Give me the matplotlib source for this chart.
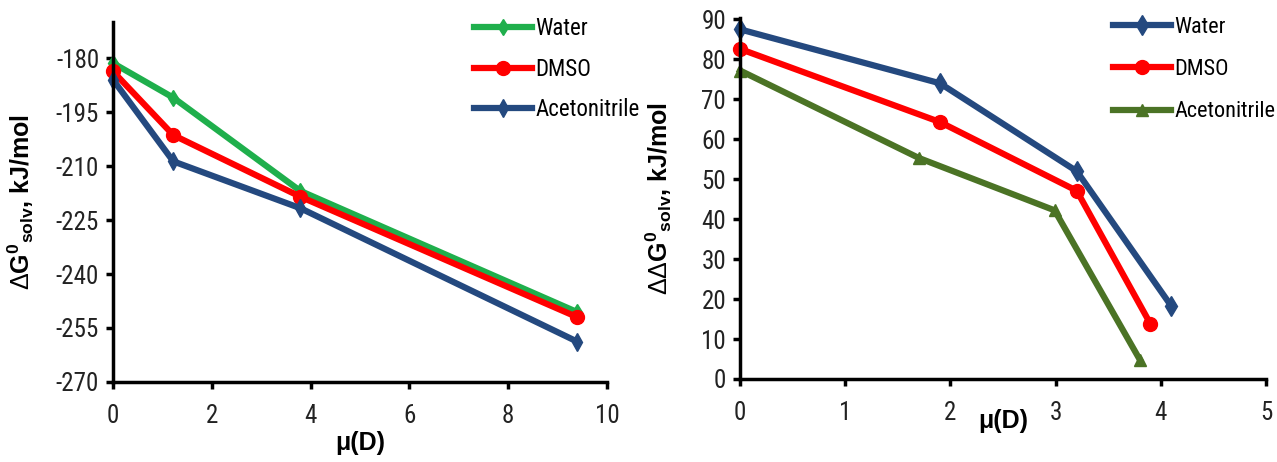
import matplotlib
matplotlib.use("Agg")
import matplotlib.pyplot as plt
from matplotlib import font_manager

# ---- data: left panel (ΔG0 solv) ----
left_series = ["Water", "DMSO", "Acetonitrile"]
left_x = [0, 1.22, 3.79, 9.4]
left_water = [-181.4, -191.0, -216.9, -250.6]
left_dmso = [-183.7, -201.4, -218.5, -252.0]
left_acn = [-186.0, -208.7, -221.7, -258.8]
left_yticks = [-270, -255, -240, -225, -210, -195, -180]
left_xticks = [0, 2, 4, 6, 8, 10]

# ---- data: right panel (ΔΔG0 solv) ----
right_series = ["Water", "DMSO", "Acetonitrile"]
right_water_x = [0, 1.90, 3.20, 4.10]
right_water = [87.5, 74.0, 52.0, 18.2]
right_dmso_x = [0, 1.90, 3.20, 3.90]
right_dmso = [82.6, 64.3, 47.1, 13.8]
right_acn_x = [0, 1.70, 2.99, 3.80]
right_acn = [77.2, 55.3, 42.2, 4.8]
right_yticks = [0, 10, 20, 30, 40, 50, 60, 70, 80, 90]
right_xticks = [0, 1, 2, 3, 4, 5]

avail = {f.name for f in font_manager.fontManager.ttflist}
narrow = None
for cand in ["Liberation Sans Narrow", "Roboto Condensed", "Open Sans Condensed", "Liberation Sans"]:
    if cand in avail:
        narrow = cand
        break
if narrow is None:
    narrow = "DejaVu Sans"

plt.rcParams["font.family"] = ["Liberation Sans", "DejaVu Sans"]
plt.rcParams["axes.unicode_minus"] = False
plt.rcParams["mathtext.fontset"] = "custom"
plt.rcParams["mathtext.rm"] = "Liberation Sans"
plt.rcParams["mathtext.it"] = "Liberation Sans:italic"
plt.rcParams["mathtext.bf"] = "Liberation Sans:bold"

GREEN = "#1FAF4C"
RED = "#FF0000"
NAVY = "#24497F"
OLIVE = "#4B7325"

fig = plt.figure(figsize=(12.77, 4.62), dpi=100)
axL = fig.add_axes([0.0885, 0.1732, 0.3868, 0.779])
axR = fig.add_axes([0.5795, 0.1797, 0.412, 0.781])

lw = 4.5
axL.plot(left_x, left_water, color=GREEN, lw=lw, marker="d", ms=8, label=left_series[0])
axL.plot(left_x, left_dmso, color=RED, lw=lw, marker="o", ms=10, label=left_series[1])
axL.plot(left_x, left_acn, color=NAVY, lw=lw, marker="d", ms=9, label=left_series[2])
axL.set_xlim(0, 10)
axL.set_ylim(-270, -170)
axL.set_xticks(left_xticks)
axL.set_yticks(left_yticks)

axR.plot(right_water_x, right_water, color=NAVY, lw=lw, marker="d", ms=10, label=right_series[0])
axR.plot(right_dmso_x, right_dmso, color=RED, lw=lw, marker="o", ms=10, label=right_series[1])
axR.plot(right_acn_x, right_acn, color=OLIVE, lw=lw, marker="^", ms=9, label=right_series[2])
axR.set_xlim(0, 5)
axR.set_ylim(0, 90.3)
axR.set_xticks(right_xticks)
axR.set_yticks(right_yticks)

for ax in (axL, axR):
    for s in ("top", "right"):
        ax.spines[s].set_visible(False)
    for s in ("left", "bottom"):
        ax.spines[s].set_linewidth(2.5)
        ax.spines[s].set_color("black")
    ax.tick_params(axis="y", direction="out", width=2.5, length=5, pad=5)
    ax.tick_params(axis="x", direction="out", width=2.5, length=5, pad=11)
    for lab in ax.get_xticklabels() + ax.get_yticklabels():
        lab.set_fontfamily(narrow)
        lab.set_fontsize(18)
        lab.set_color("#222222")
    for l in ax.get_lines():
        l.set_clip_on(False)

axL.set_ylabel(r"$\Delta\mathbf{G^{0}}_{\mathbf{solv}}$, kJ/mol", fontsize=18,
               fontweight="bold", labelpad=14)
axL.set_xlabel("μ(D)", fontsize=18, fontweight="bold", labelpad=2)
axR.set_ylabel(r"$\Delta\Delta\mathbf{G^{0}}_{\mathbf{solv}}$, kJ/mol", fontsize=18,
               fontweight="bold", labelpad=20)
axR.set_xlabel("μ(D)", fontsize=18, fontweight="bold", labelpad=-12)

axL.legend(loc="upper left", bbox_to_anchor=(463 / 1277, 1 - 6 / 462),
           bbox_transform=fig.transFigure, frameon=False,
           prop={"family": narrow, "size": 16.5},
           handlelength=2.5, handletextpad=0.15, labelspacing=0.75, borderpad=0)
axR.legend(loc="upper left", bbox_to_anchor=(1102 / 1277, 1 - 6 / 462),
           bbox_transform=fig.transFigure, frameon=False,
           prop={"family": narrow, "size": 16},
           handlelength=2.6, handletextpad=0.15, labelspacing=0.95, borderpad=0)

fig.savefig("out.png", dpi=100)
